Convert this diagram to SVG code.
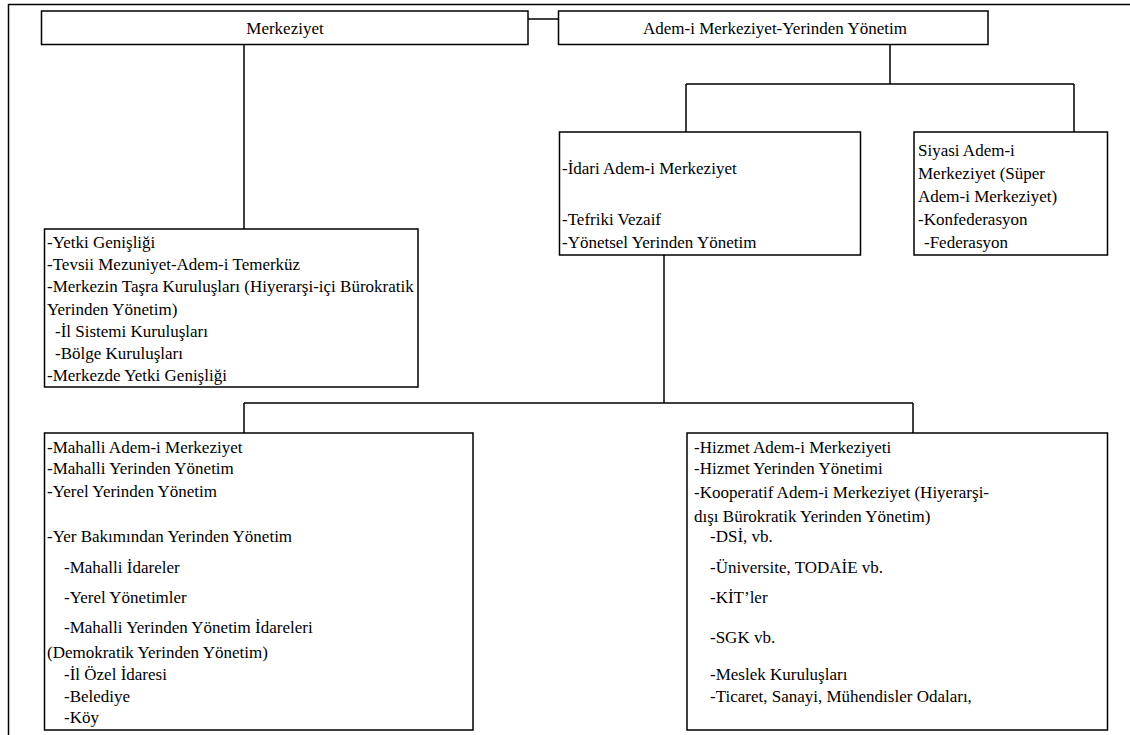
<svg xmlns="http://www.w3.org/2000/svg" width="1130" height="735" viewBox="0 0 1130 735">
<style>
.box{fill:#fff;stroke:#000;stroke-width:1.5}
.ln{fill:none;stroke:#000;stroke-width:1.5}
.t{font-family:"Liberation Serif","Times New Roman",serif;font-size:17px;fill:#000}
.c{text-anchor:middle}
</style>
<rect width="1130" height="735" fill="#fff"/>
<path class="ln" d="M8.5,735 V4.5 H1130"/>
<g id="connectors">
<path class="ln" d="M528,19 H558"/>
<path class="ln" d="M244,44.5 V229"/>
<path class="ln" d="M890,44.5 V84 M686,84 H1074 M686,84 V132 M1074,84 V132"/>
<path class="ln" d="M664,255 V403 M244,403 H913 M244,403 V433 M913,403 V433"/>
</g>
<g id="merkeziyet">
<rect class="box" x="41.5" y="11" width="486.5" height="33.5"/>
<text class="t c" x="285" y="33.5">Merkeziyet</text>
</g>
<g id="ademi">
<rect class="box" x="558.5" y="11" width="429.5" height="33.5"/>
<text class="t c" x="775" y="33.5">Adem-i Merkeziyet-Yerinden Yönetim</text>
</g>
<g id="yetki">
<rect class="box" x="44.5" y="229" width="373.5" height="158"/>
<text class="t"><tspan x="47" y="248">-Yetki Genişliği</tspan><tspan x="47" y="270">-Tevsii Mezuniyet-Adem-i Temerküz</tspan><tspan x="47" y="292">-Merkezin Taşra Kuruluşları (Hiyerarşi-içi Bürokratik</tspan><tspan x="47" y="315">Yerinden Yönetim)</tspan><tspan x="55" y="337">-İl Sistemi Kuruluşları</tspan><tspan x="55" y="359">-Bölge Kuruluşları</tspan><tspan x="47" y="381">-Merkezde Yetki Genişliği</tspan></text>
</g>
<g id="idari">
<rect class="box" x="559.5" y="132" width="301" height="123"/>
<text class="t"><tspan x="562" y="174">-İdari Adem-i Merkeziyet</tspan><tspan x="562" y="225">-Tefriki Vezaif</tspan><tspan x="562" y="248">-Yönetsel Yerinden Yönetim</tspan></text>
</g>
<g id="siyasi">
<rect class="box" x="914" y="132" width="193.5" height="123"/>
<text class="t"><tspan x="918" y="156">Siyasi Adem-i</tspan><tspan x="918" y="179">Merkeziyet (Süper</tspan><tspan x="918" y="202">Adem-i Merkeziyet)</tspan><tspan x="918" y="225">-Konfederasyon</tspan><tspan x="924" y="248">-Federasyon</tspan></text>
</g>
<g id="mahalli">
<rect class="box" x="44.5" y="433" width="428.5" height="297"/>
<text class="t"><tspan x="47" y="453">-Mahalli Adem-i Merkeziyet</tspan><tspan x="47" y="474">-Mahalli Yerinden Yönetim</tspan><tspan x="47" y="497">-Yerel Yerinden Yönetim</tspan><tspan x="47" y="542">-Yer Bakımından Yerinden Yönetim</tspan><tspan x="64" y="573">-Mahalli İdareler</tspan><tspan x="64" y="603">-Yerel Yönetimler</tspan><tspan x="64" y="633">-Mahalli Yerinden Yönetim İdareleri</tspan><tspan x="47" y="658">(Demokratik Yerinden Yönetim)</tspan><tspan x="64" y="680">-İl Özel İdaresi</tspan><tspan x="64" y="702">-Belediye</tspan><tspan x="64" y="723">-Köy</tspan></text>
</g>
<g id="hizmet">
<rect class="box" x="687" y="433" width="420.5" height="297"/>
<text class="t"><tspan x="694" y="453">-Hizmet Adem-i Merkeziyeti</tspan><tspan x="694" y="474">-Hizmet Yerinden Yönetimi</tspan><tspan x="694" y="498">-Kooperatif Adem-i Merkeziyet (Hiyerarşi-</tspan><tspan x="694" y="522">dışı Bürokratik Yerinden Yönetim)</tspan><tspan x="710" y="542">-DSİ, vb.</tspan><tspan x="710" y="573">-Üniversite, TODAİE vb.</tspan><tspan x="710" y="603">-KİT’ler</tspan><tspan x="710" y="643">-SGK vb.</tspan><tspan x="710" y="680">-Meslek Kuruluşları</tspan><tspan x="710" y="702">-Ticaret, Sanayi, Mühendisler Odaları,</tspan></text>
</g>
</svg>
